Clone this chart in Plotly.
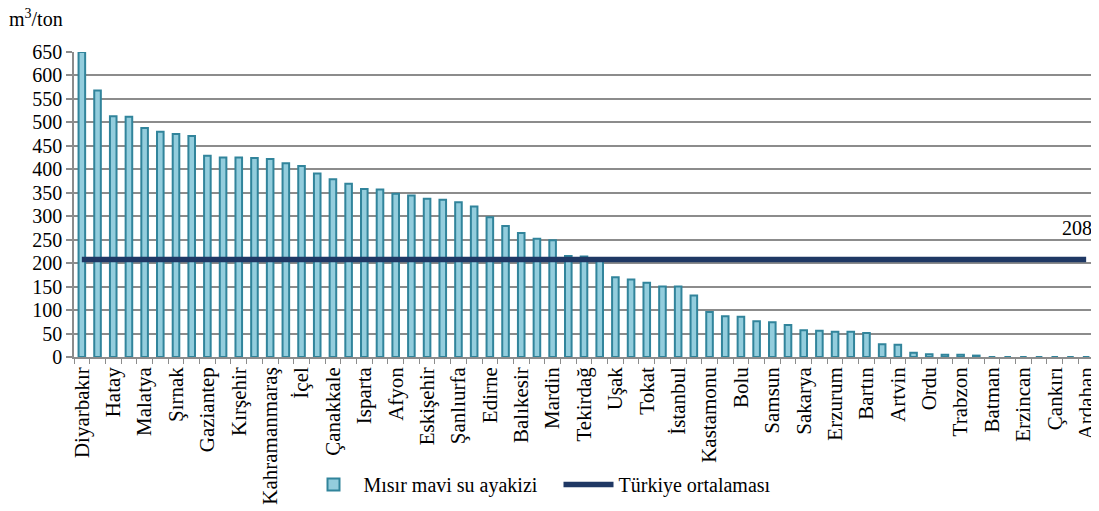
import plotly.graph_objects as go

# Labelled provinces (every other bar carries a label)
labels = ["Diyarbakır", "Hatay", "Malatya", "Şırnak", "Gaziantep", "Kırşehir",
          "Kahramanmaraş", "İçel", "Çanakkale", "Isparta", "Afyon", "Eskişehir",
          "Şanlıurfa", "Edirne", "Balıkesir", "Mardin", "Tekirdağ", "Uşak", "Tokat",
          "İstanbul", "Kastamonu", "Bolu", "Samsun", "Sakarya", "Erzurum", "Bartın",
          "Artvin", "Ordu", "Trabzon", "Batman", "Erzincan", "Çankırı", "Ardahan"]

# Maize blue water footprint (m3/ton), 65 provinces in descending order
values = [650, 568, 513, 512, 488, 480, 475, 471, 429, 425,
          425, 424, 422, 413, 407, 391, 379, 369, 358, 357,
          348, 344, 337, 335, 330, 321, 298, 279, 264, 252,
          249, 215, 214, 206, 170, 165, 158, 150, 150, 131,
          96, 87, 86, 76, 74, 68, 57, 56, 54, 54,
          51, 27, 26, 9, 6, 5, 5, 3, 0, 0,
          0, 0, 0, 0, 0]

turkey_avg = 208

FONT = "Liberation Serif"
GRID = "#8c8c8c"

x = list(range(len(values)))
tickvals = x[::2]

fig = go.Figure()
fig.add_bar(
    x=x, y=values, name="Mısır mavi su ayakizi", width=0.42,
    marker=dict(color="#93CDDD", line=dict(color="#31849B", width=2)),
)
fig.add_scatter(
    x=x, y=[turkey_avg] * len(x), mode="lines", name="Türkiye ortalaması",
    line=dict(color="#1F3864", width=5.5),
)

fig.add_annotation(
    x=x[-1], y=turkey_avg, xref="x", yref="y", text=str(turkey_avg),
    showarrow=False, xanchor="right", yanchor="middle", xshift=8, yshift=31,
    font=dict(family=FONT, size=20, color="black"),
)
fig.add_annotation(
    x=-0.066, y=1.11, xref="paper", yref="paper", text="m<sup>3</sup>/ton",
    showarrow=False, xanchor="left", yanchor="middle",
    font=dict(family=FONT, size=20, color="black"),
)

fig.update_layout(
    width=1091, height=503, autosize=False,
    margin=dict(l=66, r=5, t=44, b=154, autoexpand=False),
    paper_bgcolor="white", plot_bgcolor="white",
    font=dict(family=FONT, size=20, color="black"),
    showlegend=True,
    legend=dict(orientation="h", x=0.225, xanchor="left", y=-0.418, yanchor="middle",
                font=dict(family=FONT, size=20, color="black"), itemwidth=50,
                entrywidth=190, entrywidthmode="pixels",
                bgcolor="rgba(0,0,0,0)"),
    xaxis=dict(
        range=[-0.5, len(values) - 0.5], tickmode="array", tickvals=tickvals,
        ticktext=labels, tickangle=-90, ticks="", showgrid=False, zeroline=False,
        showline=True, linecolor=GRID, linewidth=1.5, automargin=False,
        tickfont=dict(family=FONT, size=21, color="black"),
        minor=dict(tickmode="linear", tick0=-0.5, dtick=1, ticks="outside",
                   ticklen=5, tickcolor=GRID, tickwidth=1.3, showgrid=False),
    ),
    yaxis=dict(
        range=[0, 650], tickmode="linear", tick0=0, dtick=50,
        showgrid=True, gridcolor=GRID, gridwidth=1.5, zeroline=False,
        showline=True, linecolor=GRID, linewidth=1.5, automargin=False,
        ticks="outside", ticklen=6, tickcolor=GRID, tickwidth=1.5,
        tickfont=dict(family=FONT, size=20, color="black"),
    ),
)

fig.write_html("out.html")
